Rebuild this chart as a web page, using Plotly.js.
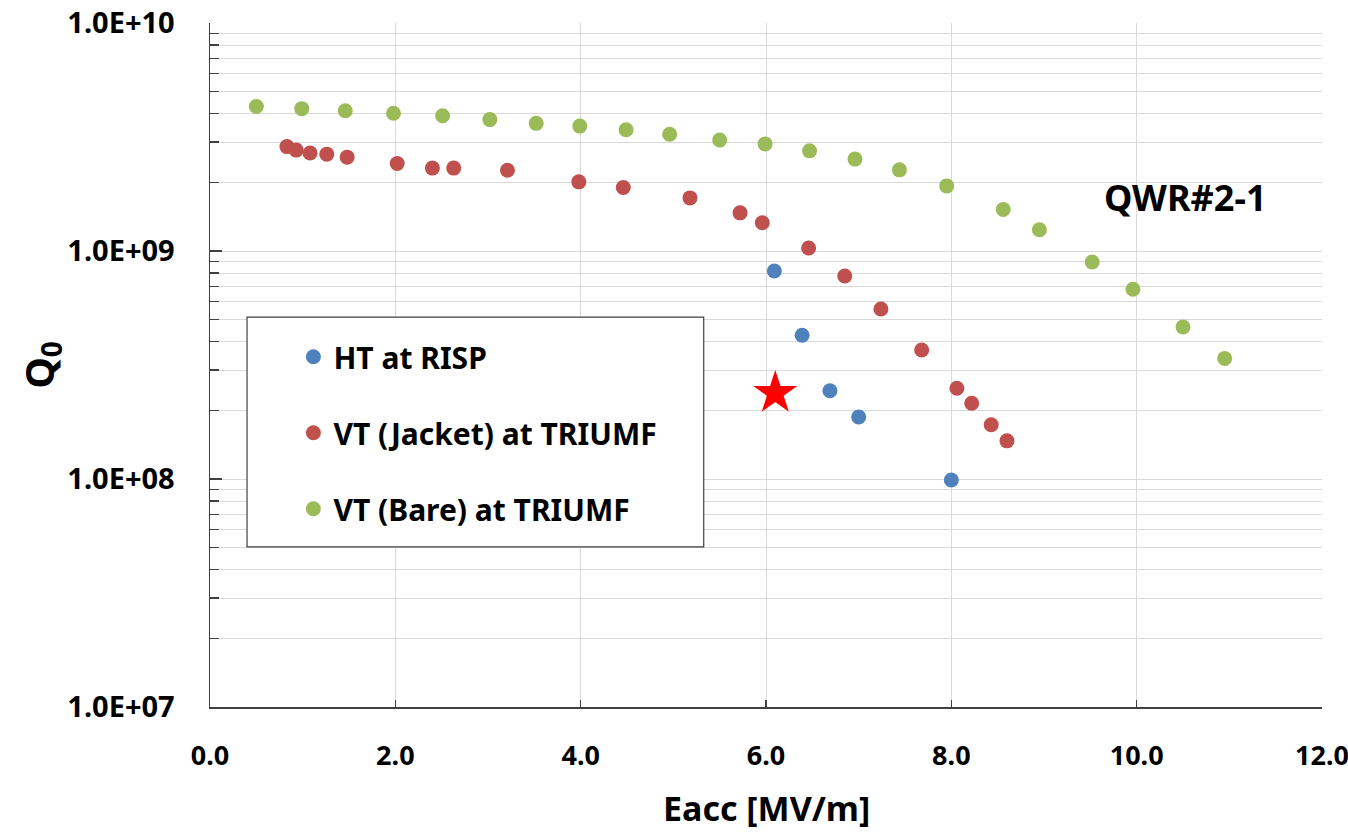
<!DOCTYPE html>
<html>
<head>
<meta charset="utf-8">
<script src="https://cdn.plot.ly/plotly-3.0.1.min.js"></script>
<style>html,body{margin:0;padding:0;background:#fff;}#chart{width:1348px;height:835px;}</style>
</head>
<body>
<div id="chart"></div>
<script>
// ---- data ----
const htE = [6.09, 6.39, 6.69, 7.00, 8.00];
const htQ = [8.17e8, 4.27e8, 2.44e8, 1.87e8, 9.9e7];

const jacketE = [0.83, 0.93, 1.08, 1.26, 1.48, 2.02, 2.40, 2.63, 3.21, 3.98, 4.46, 5.18, 5.72, 5.96, 6.46, 6.85, 7.24, 7.68, 8.06, 8.22, 8.43, 8.60];
const jacketQ = [2.87e9, 2.77e9, 2.69e9, 2.66e9, 2.58e9, 2.42e9, 2.31e9, 2.31e9, 2.26e9, 2.01e9, 1.90e9, 1.71e9, 1.47e9, 1.33e9, 1.03e9, 7.77e8, 5.57e8, 3.68e8, 2.50e8, 2.15e8, 1.73e8, 1.47e8];

const bareE = [0.50, 0.99, 1.46, 1.98, 2.51, 3.02, 3.52, 3.99, 4.49, 4.96, 5.50, 5.99, 6.47, 6.96, 7.44, 7.95, 8.56, 8.95, 9.52, 9.96, 10.50, 10.95];
const bareQ = [4.30e9, 4.21e9, 4.12e9, 4.02e9, 3.92e9, 3.77e9, 3.63e9, 3.53e9, 3.40e9, 3.25e9, 3.07e9, 2.95e9, 2.75e9, 2.53e9, 2.27e9, 1.93e9, 1.52e9, 1.24e9, 8.95e8, 6.80e8, 4.64e8, 3.38e8];

const starE = [6.10];
const starQ = [2.38e8];

const seriesNames = ["HT at RISP", "VT (Jacket) at TRIUMF", "VT (Bare) at TRIUMF"];
const yTickVals = [1e7, 1e8, 1e9, 1e10];
const yTickText = ["1.0E+07", "1.0E+08", "1.0E+09", "1.0E+10"];
const xTickVals = [0, 2, 4, 6, 8, 10, 12];
const xTickText = ["0.0", "2.0", "4.0", "6.0", "8.0", "10.0", "12.0"];
const cavityLabel = "QWR#2-1";

// minor tick positions (2..9 in each decade)
const yMinorVals = [];
for (let d = 7; d < 10; d++) for (let m = 2; m <= 9; m++) yMinorVals.push(m * Math.pow(10, d));

const FONT = "Noto Sans, Open Sans, DejaVu Sans, sans-serif";
const GRID = "#d9d9d9";

const traces = [
  {x: htE, y: htQ, name: seriesNames[0], mode: "markers", type: "scatter", legendgroup: "a",
   marker: {color: "#4F81BD", size: 15}},
  {x: jacketE, y: jacketQ, name: seriesNames[1], mode: "markers", type: "scatter", legendgroup: "b",
   marker: {color: "#C0504D", size: 15}},
  {x: bareE, y: bareQ, name: seriesNames[2], mode: "markers", type: "scatter", legendgroup: "c",
   marker: {color: "#9BBB59", size: 15}},
  {x: starE, y: starQ, mode: "markers", type: "scatter", showlegend: false,
   marker: {color: "#FF0000", size: 33, symbol: "star"}}
];

const layout = {
  width: 1348, height: 835,
  margin: {l: 210, r: 26, t: 23, b: 128},
  paper_bgcolor: "#fff", plot_bgcolor: "#fff",
  font: {family: FONT, color: "#000", size: 28, weight: "bold"},
  showlegend: true,
  legend: {
    x: 0.075, y: 0.55, xanchor: "left", yanchor: "top",
    bgcolor: "rgba(0,0,0,0)", borderwidth: 0,
    font: {family: FONT, size: 30, color: "#000", weight: "bold"},
    tracegroupgap: 34, traceorder: "grouped"
  },
  xaxis: {
    range: [0, 12], tickmode: "array", tickvals: xTickVals, ticktext: xTickText,
    showgrid: true, gridcolor: GRID, gridwidth: 1,
    zeroline: false, showline: true, linecolor: "#404040", linewidth: 1.5,
    ticks: "inside", ticklen: 7, tickcolor: "#404040", tickwidth: 1.5,
    tickfont: {family: FONT, size: 27, color: "#000", weight: "bold"},
    ticklabelstandoff: 24, ticklabeloverflow: "allow"
  },
  yaxis: {
    type: "log", range: [7, 10], tickmode: "array", tickvals: yTickVals, ticktext: yTickText,
    showgrid: true, gridcolor: GRID, gridwidth: 1,
    zeroline: false, showline: true, linecolor: "#404040", linewidth: 1.5,
    ticks: "inside", ticklen: 12, tickcolor: "#404040", tickwidth: 1.5,
    tickfont: {family: FONT, size: 29, color: "#000", weight: "bold"},
    ticklabelstandoff: 28, ticklabeloverflow: "allow",
    minor: {tickmode: "array", tickvals: yMinorVals, ticks: "inside", ticklen: 9,
            tickcolor: "#404040", tickwidth: 1.5, showgrid: true, gridcolor: GRID, gridwidth: 1}
  },
  shapes: [
    {type: "rect", xref: "paper", yref: "paper", x0: 0.0333, x1: 0.444, y0: 0.234, y1: 0.570,
     line: {color: "#404040", width: 1.2}, fillcolor: "#fff", layer: "above"}
  ],
  annotations: [
    {text: "Eacc [MV/m]", xref: "paper", yref: "paper", x: 0.5, y: -0.148, xanchor: "center", yanchor: "middle",
     showarrow: false, font: {family: FONT, size: 34, color: "#000", weight: "bold"}},
    {text: "Q<sub>0</sub>", xref: "paper", yref: "paper", x: -0.153, y: 0.5, xanchor: "center", yanchor: "middle",
     textangle: -90, showarrow: false, font: {family: FONT, size: 40, color: "#000", weight: "bold"}},
    {text: cavityLabel, xref: "paper", yref: "paper", x: 0.877, y: 0.745, xanchor: "center", yanchor: "middle",
     showarrow: false, font: {family: FONT, size: 36, color: "#000", weight: "bold"}}
  ]
};

Plotly.newPlot("chart", traces, layout, {displayModeBar: false, staticPlot: true});
</script>
</body>
</html>
